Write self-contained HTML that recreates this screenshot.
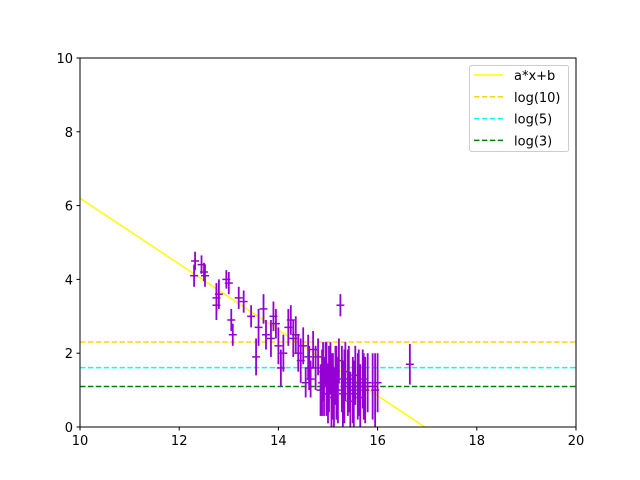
<!DOCTYPE html>
<html><head><meta charset="utf-8">
<style>
html,body{margin:0;padding:0;background:#fff;width:640px;height:480px;overflow:hidden;font-family:"Liberation Sans","DejaVu Sans",sans-serif;}
svg{display:block;}
svg text{font-family:"DejaVu Sans","Liberation Sans",sans-serif;font-size:13px;fill:#000;}
</style></head>
<body>
<svg id="chart" width="640" height="480" xmlns="http://www.w3.org/2000/svg">
<rect width="640" height="480" fill="#fff"/>
<g id="plot"></g>
</svg>
<script>
const xs = [12.32,12.3,12.45,12.5,12.52,12.75,12.8,12.75,12.95,13.0,13.05,13.08,13.2,13.3,13.45,13.55,13.6,13.7,13.75,13.85,13.9,13.95,14.0,14.05,14.1,14.2,14.25,14.3,14.35,14.4,14.45,14.5,14.55,14.6,14.65,14.7,14.75,14.8,14.85,14.9,14.92,14.95,15.0,15.02,15.05,15.1,15.12,15.15,15.2,15.22,15.25,15.28,15.3,15.35,15.4,15.45,15.5,15.55,15.6,15.65,15.7,15.75,15.8,15.9,15.95,16.0,16.65,14.62,14.88,14.97,15.07,15.17,15.33,15.42,15.52,15.62,15.72];
const ys = [4.5,4.1,4.4,4.2,4.1,3.5,3.6,3.3,4.0,3.9,2.9,2.5,3.5,3.4,3.0,1.9,2.7,3.2,2.5,2.4,3.0,2.8,2.2,1.6,2.0,2.7,2.9,2.4,2.5,2.0,1.8,2.2,1.2,1.9,1.3,2.1,1.6,1.9,1.0,1.5,1.1,1.7,0.9,1.3,1.6,1.1,0.8,1.4,1.0,1.8,3.3,1.3,0.9,1.5,1.2,0.7,1.0,1.4,1.1,0.8,1.3,1.0,1.2,1.1,1.0,1.2,1.7,1.6,1.2,1.3,1.0,1.2,1.1,1.3,0.9,1.2,1.1];
const yerr = [0.25,0.3,0.25,0.25,0.3,0.4,0.4,0.4,0.25,0.3,0.3,0.3,0.3,0.3,0.3,0.5,0.5,0.4,0.4,0.5,0.4,0.4,0.5,0.5,0.5,0.5,0.4,0.5,0.5,0.5,0.6,0.5,0.4,0.6,0.5,0.5,0.6,0.5,0.7,0.8,0.8,0.6,0.8,0.9,0.7,0.9,0.8,0.8,0.9,0.6,0.3,0.9,0.9,0.8,0.9,0.8,0.9,0.8,0.9,0.9,0.8,0.9,0.8,0.9,1.0,0.8,0.55,0.6,0.9,1.0,1.0,1.0,1.0,0.9,0.9,0.9,0.9];
const xerr = 0.08;
const fitA = -0.892, fitB = 15.12;
const hLines = [2.303, 1.609, 1.099];
const hLabels = ["log(10)","log(5)","log(3)"];
const hColors = ["#ffd700","#00ffff","#008000"];
const xTicks = [10,12,14,16,18,20];
const yTicks = [0,2,4,6,8,10];

const L=80,R=576,T=58,B=427;
const X=v=>L+(v-10)/10*(R-L);
const Y=v=>B-(v-0)/10*(B-T);
const NS="http://www.w3.org/2000/svg";
const g=document.getElementById('plot');
function mk(tag,attrs,parent){const e=document.createElementNS(NS,tag);for(const k in attrs)e.setAttribute(k,attrs[k]);(parent||g).appendChild(e);return e;}

const defs=mk('defs',{});const cp=mk('clipPath',{id:'clip'},defs);mk('rect',{x:L,y:T,width:R-L,height:B-T},cp);
const data=mk('g',{'clip-path':'url(#clip)'});



const fl=mk('line',{x1:X(10),y1:Y(fitA*10+fitB),x2:X(20),y2:Y(fitA*20+fitB),stroke:'#ffff00','stroke-width':1.5},data);



hLines.forEach((v,i)=>{
 const l=mk('line',{x1:L,x2:R,y1:Y(v),y2:Y(v),stroke:hColors[i],'stroke-width':1.5,'stroke-dasharray':'5.5,2.4'},data);
 
 
});

xs.forEach((x,i)=>{
 const grp=mk('g',{},data);
 
 
 mk('line',{x1:X(x),x2:X(x),y1:Y(ys[i]-yerr[i]),y2:Y(ys[i]+yerr[i]),stroke:'#9400d3','stroke-width':1.8},grp);
 mk('line',{x1:X(x-xerr),x2:X(x+xerr),y1:Y(ys[i]),y2:Y(ys[i]),stroke:'#9400d3','stroke-width':1.5},grp);
});

const fr=mk('rect',{x:L,y:T,width:R-L,height:B-T,fill:'none',stroke:'#000','stroke-width':1});



xTicks.forEach(v=>{
 mk('line',{x1:X(v),x2:X(v),y1:B,y2:B+3.5,stroke:'#000'});
 const t=mk('text',{x:X(v),y:B+18,'text-anchor':'middle'});t.textContent=v;
 
 
});
yTicks.forEach(v=>{
 mk('line',{x1:L-3.5,x2:L,y1:Y(v),y2:Y(v),stroke:'#000'});
 const t=mk('text',{x:L-7,y:Y(v)+5,'text-anchor':'end'});t.textContent=v;
 
 
});

const lg=mk('g',{});


mk('rect',{x:469.5,y:65.5,width:99,height:86,rx:2,fill:'#fff',stroke:'#cccccc'},lg);
const legItems=[["a*x+b","#ffff00",null]].concat(hLabels.map((l,i)=>[l,hColors[i],'5.5,2.4']));
legItems.forEach((it,i)=>{
 const yy=75+i*21.8;
 const e=mk('g',{},lg);
 
 
 const a={x1:474,x2:503,y1:yy,y2:yy,stroke:it[1],'stroke-width':1.5};
 if(it[2])a['stroke-dasharray']=it[2];
 mk('line',a,e);
 const t=mk('text',{x:514,y:yy+5},e);t.textContent=it[0];
});
</script>
</body></html>
